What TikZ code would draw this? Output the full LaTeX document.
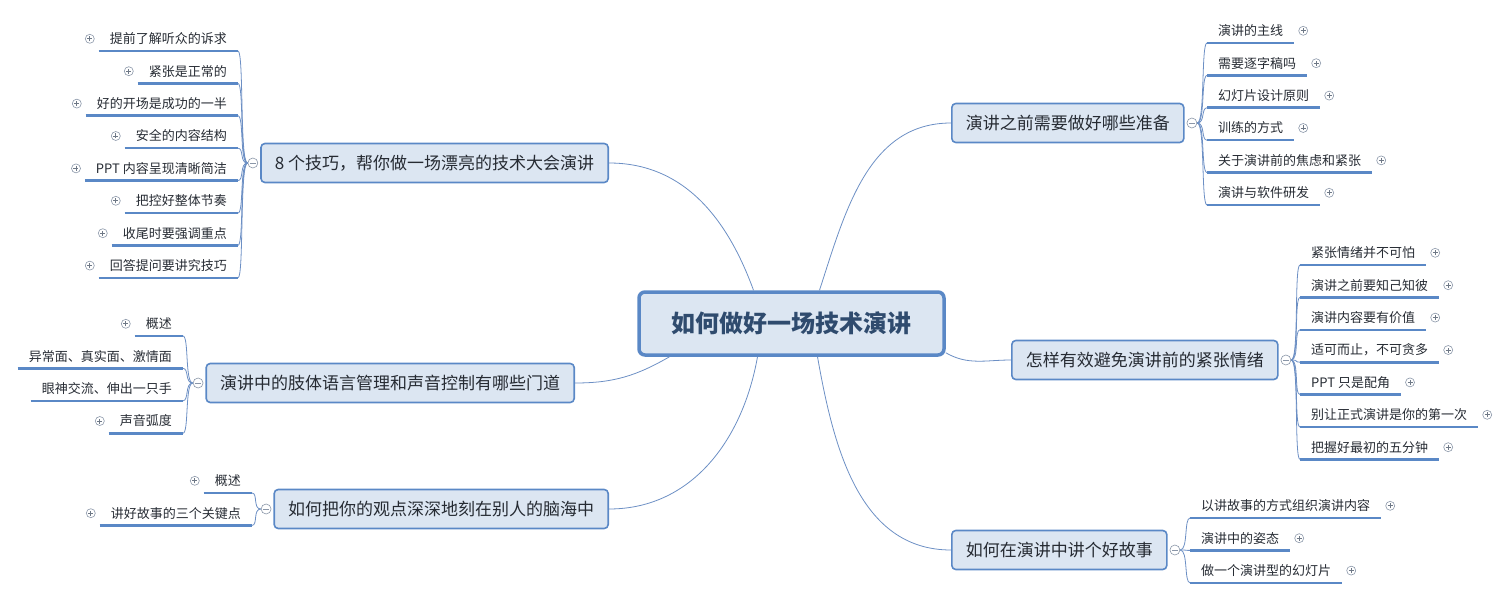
\documentclass[tikz,border=0pt]{standalone}
\usepackage{fontspec}
\setmainfont{Noto Sans CJK SC}
\usepackage{xcolor}
\usepackage{tikz}
\usetikzlibrary{positioning}

\definecolor{mmblue}{HTML}{5A88C6}
\definecolor{mmfill}{HTML}{DCE6F2}
\definecolor{mmline}{HTML}{6C8FC4}
\definecolor{mmtext}{HTML}{262B33}
\definecolor{mmroot}{HTML}{2F4B6E}
\definecolor{mmicon}{HTML}{8A96A8}

\begin{document}
\begin{tikzpicture}[
  x=1pt, y=-1pt,
  node distance=8pt and 4pt,
  root/.style={draw=mmblue, line width=3.5pt, fill=mmfill, rounded corners=6pt, minimum width=305pt, minimum height=63pt, font=\fontsize{24}{28}\selectfont\bfseries, text=mmroot},
  topic/.style={draw=mmblue, line width=1.6pt, fill=mmfill, rounded corners=4pt, inner xsep=14pt, minimum height=39pt, font=\fontsize{17}{20}\selectfont, text=mmtext},
  leaf/.style={inner xsep=11pt, inner ysep=0pt, minimum height=24pt, font=\fontsize{13}{15}\selectfont, text=mmtext},
  uline/.style={draw=mmblue, line width=2.6pt},
  link/.style={draw=mmline, line width=0.8pt},
  twigr/.style={link, to path={.. controls +(8,0) and +(-6,0) .. (\tikztotarget)}},
  twigl/.style={link, to path={.. controls +(-8,0) and +(6,0) .. (\tikztotarget)}},
  fold/.style={circle, draw=mmicon, line width=0.6pt, fill=white, minimum size=10pt, inner sep=0pt,
    path picture={\draw[mmicon, line width=0.7pt] ([xshift=-2.8pt]path picture bounding box.center) -- ([xshift=2.8pt]path picture bounding box.center);}},
  expand/.style={circle, draw=mmicon, line width=0.6pt, minimum size=9pt, inner sep=0pt,
    path picture={\draw[mmicon!80!black, line width=0.7pt] ([xshift=-2.5pt]path picture bounding box.center) -- ([xshift=2.5pt]path picture bounding box.center)
      ([yshift=-2.5pt]path picture bounding box.center) -- ([yshift=2.5pt]path picture bounding box.center);}}
]
\useasboundingbox (0,0) rectangle (1508,599);

% Nodes
\node[root] (root) at (791.5,323.5) {如何做好一场技术演讲};

\node[topic, anchor=west] (t1) at (951,123) {演讲之前需要做好哪些准备};
\node[topic, anchor=west] (t2) at (1011,360) {怎样有效避免演讲前的紧张情绪};
\node[topic, anchor=west] (t3) at (951,550) {如何在演讲中讲个好故事};
\node[topic, anchor=east] (t4) at (609,163) {8 个技巧，帮你做一场漂亮的技术大会演讲};
\node[topic, anchor=east] (t5) at (575,383) {演讲中的肢体语言管理和声音控制有哪些门道};
\node[topic, anchor=east] (t6) at (609,509) {如何把你的观点深深地刻在别人的脑海中};

\node[fold, right=2pt of t1] (t1-f) {};
\node[fold, right=2pt of t2] (t2-f) {};
\node[fold, right=2pt of t3] (t3-f) {};
\node[fold, left=2pt of t4] (t4-f) {};
\node[fold, left=2pt of t5] (t5-f) {};
\node[fold, left=2pt of t6] (t6-f) {};

% right side leaves
\node[leaf, anchor=south west] (a1) at (1207,43) {演讲的主线};
\node[leaf, below=8pt of a1.south west, anchor=north west] (a2) {需要逐字稿吗};
\node[leaf, below=8pt of a2.south west, anchor=north west] (a3) {幻灯片设计原则};
\node[leaf, below=8pt of a3.south west, anchor=north west] (a4) {训练的方式};
\node[leaf, below=8pt of a4.south west, anchor=north west] (a5) {关于演讲前的焦虑和紧张};
\node[leaf, below=8pt of a5.south west, anchor=north west] (a6) {演讲与软件研发};

\node[leaf, anchor=south west] (b1) at (1300,265) {紧张情绪并不可怕};
\node[leaf, below=8pt of b1.south west, anchor=north west] (b2) {演讲之前要知己知彼};
\node[leaf, below=8pt of b2.south west, anchor=north west] (b3) {演讲内容要有价值};
\node[leaf, below=8pt of b3.south west, anchor=north west] (b4) {适可而止，不可贪多};
\node[leaf, below=8pt of b4.south west, anchor=north west] (b5) {PPT 只是配角};
\node[leaf, below=8pt of b5.south west, anchor=north west] (b6) {别让正式演讲是你的第一次};
\node[leaf, below=8pt of b6.south west, anchor=north west] (b7) {把握好最初的五分钟};

\node[leaf, anchor=south west] (c1) at (1190,518) {以讲故事的方式组织演讲内容};
\node[leaf, below=8pt of c1.south west, anchor=north west] (c2) {演讲中的姿态};
\node[leaf, below=8pt of c2.south west, anchor=north west] (c3) {做一个演讲型的幻灯片};

% left side leaves
\node[leaf, anchor=south east] (d1) at (238,51) {提前了解听众的诉求};
\node[leaf, below=8pt of d1.south east, anchor=north east] (d2) {紧张是正常的};
\node[leaf, below=8pt of d2.south east, anchor=north east] (d3) {好的开场是成功的一半};
\node[leaf, below=8pt of d3.south east, anchor=north east] (d4) {安全的内容结构};
\node[leaf, below=8pt of d4.south east, anchor=north east] (d5) {PPT 内容呈现清晰简洁};
\node[leaf, below=8pt of d5.south east, anchor=north east] (d6) {把控好整体节奏};
\node[leaf, below=8pt of d6.south east, anchor=north east] (d7) {收尾时要强调重点};
\node[leaf, below=8pt of d7.south east, anchor=north east] (d8) {回答提问要讲究技巧};

\node[leaf, anchor=south east] (e1) at (183,336) {概述};
\node[leaf, below=8pt of e1.south east, anchor=north east] (e2) {异常面、真实面、激情面};
\node[leaf, below=8pt of e2.south east, anchor=north east] (e3) {眼神交流、伸出一只手};
\node[leaf, below=8pt of e3.south east, anchor=north east] (e4) {声音弧度};

\node[leaf, anchor=south east] (f1) at (252,493) {概述};
\node[leaf, below=8pt of f1.south east, anchor=north east] (f2) {讲好故事的三个关键点};

\foreach \n in {a1,a2,a3,a4,a5,a6,b1,b2,b3,b4,b5,b6,b7,c1,c2,c3}
  \node[expand, right=4pt of \n] (\n-x) {};
\foreach \n in {d1,d2,d3,d4,d5,d6,d7,d8,e1,e4,f1,f2}
  \node[expand, left=4pt of \n] (\n-x) {};

% Pointers
\draw[link] ([xshift=28pt]root.north) to[out=72, in=180] (t1.west);
\draw[link] ([yshift=4pt]root.south east) to[out=-30, in=180] (t2.west);
\draw[link] ([xshift=26pt]root.south) to[out=-80, in=180] (t3.west);
\draw[link] ([xshift=-38pt]root.north) to[out=110, in=0] (t4.east);
\draw[link] ([xshift=-122pt]root.south) to[out=-150, in=0] (t5.east);
\draw[link] ([xshift=-34pt]root.south) to[out=-100, in=0] (t6.east);

\foreach \n in {a1,a2,a3,a4,a5,a6} \draw[twigr] (t1-f.east) to (\n.south west);
\foreach \n in {b1,b2,b3,b4,b5,b6,b7} \draw[twigr] (t2-f.east) to (\n.south west);
\foreach \n in {c1,c2,c3} \draw[twigr] (t3-f.east) to (\n.south west);
\foreach \n in {d1,d2,d3,d4,d5,d6,d7,d8} \draw[twigl] (t4-f.west) to (\n.south east);
\foreach \n in {e1,e2,e3,e4} \draw[twigl] (t5-f.west) to (\n.south east);
\foreach \n in {f1,f2} \draw[twigl] (t6-f.west) to (\n.south east);

\foreach \n in {a1,a2,a3,a4,a5,a6,b1,b2,b3,b4,b5,b6,b7,c1,c2,c3}
  \draw[uline] (\n.south west) -- (\n.south east);
\foreach \n in {d1,d2,d3,d4,d5,d6,d7,d8,e1,e2,e3,e4,f1,f2}
  \draw[uline] (\n.south west) -- (\n.south east);
\end{tikzpicture}
\end{document}
